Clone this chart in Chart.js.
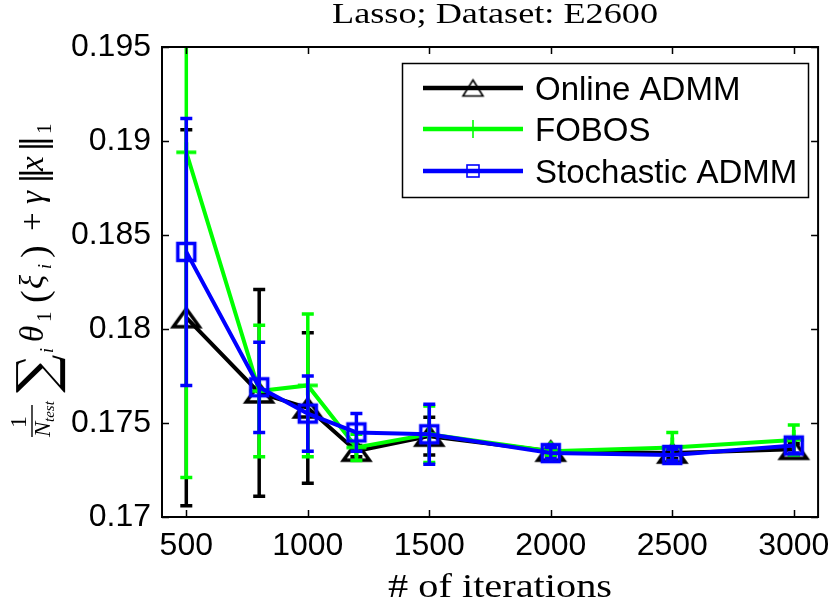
<!DOCTYPE html>
<html><head><meta charset="utf-8">
<script src="https://cdn.jsdelivr.net/npm/chart.js@4.4.1/dist/chart.umd.min.js"></script>
<style>html,body{margin:0;padding:0;background:#fff}canvas{display:block}</style>
</head><body>
<canvas id="c" width="840" height="609"></canvas>
<script>
// ---- data ----
const iterations = [500, 800, 1000, 1200, 1500, 2000, 2500, 3000];
const onlineADMM    = [0.1806, 0.1766, 0.1758, 0.1735, 0.1743, 0.1735, 0.1734, 0.1736];
const onlineADMMErr = [0.0100, 0.0055, 0.0040, 0.0003, 0.0010, 0.0002, 0.0003, 0.0003];
const fobos         = [0.1894, 0.1767, 0.1770, 0.1737, 0.1744, 0.1735, 0.1737, 0.1741];
const fobosErr      = [0.0173, 0.0035, 0.0038, 0.0007, 0.0015, 0.0002, 0.0008, 0.0008];
const stochADMM     = [0.1841, 0.1769, 0.1755, 0.1745, 0.1744, 0.1734, 0.1733, 0.1738];
const stochADMMErr  = [0.0071, 0.0024, 0.0020, 0.0010, 0.0016, 0.0003, 0.0003, 0.0004];
const xTicks = [500, 1000, 1500, 2000, 2500, 3000];
const xTickLabels = ['500', '1000', '1500', '2000', '2500', '3000'];
const yTicks = [0.17, 0.175, 0.18, 0.185, 0.19, 0.195];
const yTickLabels = ['0.17', '0.175', '0.18', '0.185', '0.19', '0.195'];
const seriesNames = ['Online ADMM', 'FOBOS', 'Stochastic ADMM'];
const titleText = 'Lasso; Dataset: E2600';
const xTitleText = '# of iterations';

// ---- marker images ----
function mk(w, h) { const c = document.createElement('canvas'); c.width = w; c.height = h; return c; }
function triMarker(w, h, lw, color) {
  const c = mk(Math.ceil(w + lw * 3), Math.ceil(h + lw * 4)); const g = c.getContext('2d');
  const cx = c.width / 2, cy = c.height / 2;
  g.strokeStyle = color; g.lineWidth = lw; g.lineJoin = 'miter';
  g.beginPath(); g.moveTo(cx, cy - h / 2); g.lineTo(cx + w / 2, cy + h / 2); g.lineTo(cx - w / 2, cy + h / 2); g.closePath(); g.stroke();
  return c;
}
function sqMarker(s, lw, color) {
  const c = mk(Math.ceil(s + lw * 2), Math.ceil(s + lw * 2)); const g = c.getContext('2d');
  g.strokeStyle = color; g.lineWidth = lw;
  g.strokeRect(c.width / 2 - s / 2, c.height / 2 - s / 2, s, s);
  return c;
}
function plusMarker(s, lw, color) {
  const c = mk(Math.ceil(s + 2), Math.ceil(s + 2)); const g = c.getContext('2d');
  g.strokeStyle = color; g.lineWidth = lw;
  const m = c.width / 2;
  g.beginPath(); g.moveTo(m - s / 2, m); g.lineTo(m + s / 2, m); g.moveTo(m, m - s / 2); g.lineTo(m, m + s / 2); g.stroke();
  return c;
}
const BLACK = '#000000', GREEN = '#00ff00', BLUE = '#0000ff';
const colors = [BLACK, GREEN, BLUE];
const plotMarkers = [triMarker(26, 18, 3.5, BLACK), plusMarker(20, 3.5, GREEN), sqMarker(17, 3.5, BLUE)];
const legendMarkers = [triMarker(20, 16, 1.6, BLACK), plusMarker(18, 1.6, GREEN), sqMarker(12, 1.6, BLUE)];

const toPts = (vals) => iterations.map((x, i) => ({ x: x, y: vals[i] }));
const errs = [onlineADMMErr, fobosErr, stochADMMErr];

// ---- plugins ----
const errorBars = {
  id: 'errorBars',
  beforeDatasetDraw(chart, args) {
    const ds = chart.data.datasets[args.index];
    const e = errs[args.index];
    const xs = chart.scales.x, ys = chart.scales.y, ca = chart.chartArea, ctx = chart.ctx;
    ctx.save();
    ctx.beginPath(); ctx.rect(ca.left, ca.top, ca.right - ca.left, ca.bottom - ca.top); ctx.clip();
    ctx.strokeStyle = ds.borderColor; ctx.lineWidth = 3.5; ctx.lineCap = 'butt';
    ds.data.forEach((p, i) => {
      const px = xs.getPixelForValue(p.x);
      const t = ys.getPixelForValue(p.y + e[i]);
      const b = ys.getPixelForValue(p.y - e[i]);
      ctx.beginPath();
      ctx.moveTo(px, t); ctx.lineTo(px, b);
      ctx.moveTo(px - 6, t); ctx.lineTo(px + 6, t);
      ctx.moveTo(px - 6, b); ctx.lineTo(px + 6, b);
      ctx.stroke();
    });
    ctx.restore();
  }
};

function drawScaledText(ctx, text, font, cx, baseline, targetW) {
  ctx.save();
  ctx.font = font; ctx.textBaseline = 'alphabetic'; ctx.textAlign = 'left';
  const w = ctx.measureText(text).width;
  const s = targetW / w;
  ctx.translate(cx - targetW / 2, baseline);
  ctx.scale(s, 1);
  ctx.fillText(text, 0, 0);
  ctx.restore();
}

function drawYLabel(ctx) {
  const SER = '"Liberation Serif", "DejaVu Serif", serif';
  const pieces = [
    { t: 'N', f: 'italic 23px ' + SER, a: 0, b: 7 },
    { t: 'test', f: 'italic 15px ' + SER, a: 15, b: 11 },
    { t: '∑', f: '54px "DejaVu Serif", serif', a: 44, b: 12 },
    { t: 'i', f: 'italic 18px ' + SER, a: 84, b: 10 },
    { t: 'θ', f: 'italic 33px ' + SER, a: 95, b: 0 },
    { t: '1', f: '21px ' + SER, a: 115, b: 8 },
    { t: '(', f: '38px ' + SER, a: 134, b: 4 },
    { t: 'ξ', f: 'italic 33px ' + SER, a: 148, b: 0 },
    { t: 'i', f: 'italic 18px ' + SER, a: 168, b: 8 },
    { t: ')', f: '38px ' + SER, a: 179, b: 4 },
    { t: '+', f: '33px ' + SER, a: 206, b: 0 },
    { t: 'γ', f: 'italic 33px ' + SER, a: 233, b: 0 },
    { t: '‖', f: '33px "DejaVu Serif", serif', a: 253, b: 2 },
    { t: 'x', f: 'italic 33px ' + SER, a: 266, b: 0 },
    { t: '‖', f: '33px "DejaVu Serif", serif', a: 285, b: 2 },
    { t: '1', f: '21px ' + SER, a: 303, b: 8 }
  ];
  ctx.save();
  ctx.translate(43, 437);
  ctx.rotate(-Math.PI / 2);
  ctx.fillStyle = '#000'; ctx.textBaseline = 'alphabetic'; ctx.textAlign = 'left';
  // fraction 1 / N_test
  ctx.font = '24px ' + SER;
  const w1 = ctx.measureText('1').width;
  ctx.fillText('1', 15 - w1 / 2, -17);
  ctx.strokeStyle = '#000'; ctx.lineWidth = 1.4;
  ctx.beginPath(); ctx.moveTo(0, -11); ctx.lineTo(32, -11); ctx.stroke();
  pieces.forEach(p => { ctx.font = p.f; ctx.fillText(p.t, p.a, p.b); });
  ctx.restore();
}

const decorations = {
  id: 'decorations',
  afterDraw(chart) {
    const ctx = chart.ctx, ca = chart.chartArea, xs = chart.scales.x, ys = chart.scales.y;
    ctx.save();
    // inward ticks
    ctx.strokeStyle = '#000'; ctx.lineWidth = 1.5;
    ctx.beginPath();
    xTicks.forEach(v => { const p = Math.round(xs.getPixelForValue(v)) + 0.5;
      ctx.moveTo(p, ca.bottom); ctx.lineTo(p, ca.bottom - 7);
      ctx.moveTo(p, ca.top); ctx.lineTo(p, ca.top + 7); });
    yTicks.forEach(v => { const p = Math.round(ys.getPixelForValue(v)) + 0.5;
      ctx.moveTo(ca.left, p); ctx.lineTo(ca.left + 7, p);
      ctx.moveTo(ca.right, p); ctx.lineTo(ca.right - 7, p); });
    ctx.stroke();
    // box
    ctx.lineWidth = 2;
    ctx.strokeRect(ca.left, ca.top, ca.right - ca.left, ca.bottom - ca.top);
    // legend
    const lx = 402, ly = 63, lw = 406, lh = 134;
    ctx.fillStyle = '#fff'; ctx.fillRect(lx, ly, lw, lh);
    ctx.lineWidth = 1.5; ctx.strokeStyle = '#000'; ctx.strokeRect(lx + 0.5, ly + 0.5, lw, lh);
    const rows = [88, 129, 171];
    seriesNames.forEach((name, i) => {
      const y = rows[i];
      ctx.strokeStyle = colors[i]; ctx.lineWidth = 4.5;
      ctx.beginPath(); ctx.moveTo(423, y); ctx.lineTo(523, y); ctx.stroke();
      const m = legendMarkers[i];
      ctx.drawImage(m, 473 - m.width / 2, y - m.height / 2);
      ctx.fillStyle = '#000'; ctx.font = '33px "Liberation Sans", Arial, sans-serif';
      ctx.textBaseline = 'alphabetic'; ctx.textAlign = 'left';
      ctx.fillText(name, 535, y + 12);
    });
    // titles
    ctx.fillStyle = '#000';
    drawScaledText(ctx, titleText, '29px "Liberation Serif", serif', 495, 23, 326);
    drawScaledText(ctx, xTitleText, '34px "Liberation Serif", serif', 500, 597, 224);
    drawYLabel(ctx);
    ctx.restore();
  }
};

const datasets = [onlineADMM, fobos, stochADMM].map((vals, i) => ({
  label: seriesNames[i],
  data: toPts(vals),
  borderColor: colors[i],
  backgroundColor: colors[i],
  borderWidth: 4,
  tension: 0,
  pointStyle: plotMarkers[i],
  pointRadius: 10,
  order: 3 - i
}));

new Chart(document.getElementById('c'), {
  type: 'line',
  data: { datasets },
  options: {
    responsive: false,
    animation: false,
    devicePixelRatio: 1,
    layout: { padding: { top: 47, right: 17, left: 0, bottom: 0 } },
    plugins: { legend: { display: false }, tooltip: { enabled: false }, title: { display: false } },
    scales: {
      x: {
        type: 'linear', min: 400, max: 3100,
        afterBuildTicks: (s) => { s.ticks = xTicks.map(v => ({ value: v })); },
        afterFit: (s) => { s.height = 92; },
        grid: { display: false, drawTicks: false },
        border: { display: false },
        ticks: { color: '#000', padding: 10, maxRotation: 0, autoSkip: false,
          font: { family: '"Liberation Sans", Arial, sans-serif', size: 32 },
          callback: (v) => { const k = xTicks.indexOf(v); return k >= 0 ? xTickLabels[k] : ''; } }
      },
      y: {
        type: 'linear', min: 0.17, max: 0.195,
        afterBuildTicks: (s) => { s.ticks = yTicks.map(v => ({ value: v })); },
        afterFit: (s) => { s.width = 162; },
        grid: { display: false, drawTicks: false },
        border: { display: false },
        ticks: { color: '#000', padding: 11, autoSkip: false,
          font: { family: '"Liberation Sans", Arial, sans-serif', size: 32 },
          callback: (v) => { const k = yTicks.findIndex(t => Math.abs(t - v) < 1e-9); return k >= 0 ? yTickLabels[k] : ''; } }
      }
    }
  },
  plugins: [errorBars, decorations]
});
</script>
</body></html>
